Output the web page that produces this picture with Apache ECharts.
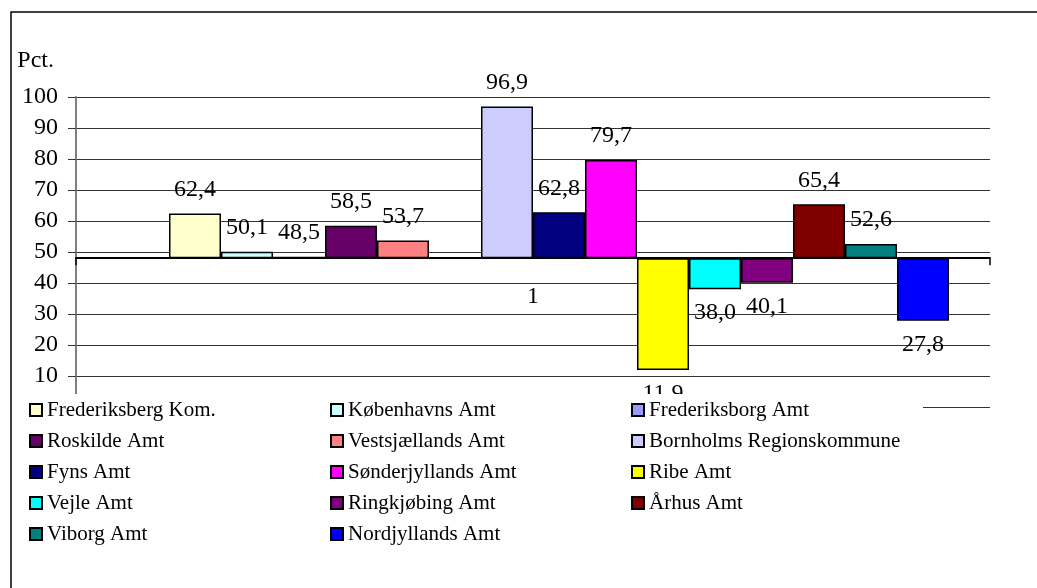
<!DOCTYPE html>
<html>
<head>
<meta charset="utf-8">
<script src="https://cdn.jsdelivr.net/npm/echarts@6/dist/echarts.min.js"></script>
<style>
html,body{margin:0;padding:0;background:#fff;}
#chart{width:1037px;height:588px;}
</style>
</head>
<body>
<div id="chart"></div>
<script>
// ---- data ----
const categories = ['1'];
const seriesNames = ['Københavns Kommune', 'Frederiksberg Kom.', 'Københavns Amt', 'Frederiksborg Amt', 'Roskilde Amt', 'Vestsjællands Amt', 'Storstrøms Amt', 'Bornholms Regionskommune', 'Fyns Amt', 'Sønderjyllands Amt', 'Ribe Amt', 'Vejle Amt', 'Ringkjøbing Amt', 'Århus Amt', 'Viborg Amt', 'Nordjyllands Amt'];
const seriesValues = [null, 62.4, 50.1, 48.5, 58.5, 53.7, null, 96.9, 62.8, 79.7, 11.9, 38.0, 40.1, 65.4, 52.6, 27.8];
const seriesColors = ['#FFFFFF', '#FFFFCC', '#CCFFFF', '#9999FF', '#660066', '#FF8080', '#FFFFFF', '#CCCCFF', '#000080', '#FF00FF', '#FFFF00', '#00FFFF', '#800080', '#800000', '#008080', '#0000FF'];
const legendNames = ['Frederiksberg Kom.', 'Københavns Amt', 'Frederiksborg Amt', 'Roskilde Amt', 'Vestsjællands Amt', 'Bornholms Regionskommune', 'Fyns Amt', 'Sønderjyllands Amt', 'Ribe Amt', 'Vejle Amt', 'Ringkjøbing Amt', 'Århus Amt', 'Viborg Amt', 'Nordjyllands Amt'];
const baseline = 48;
const yMin = 0, yMax = 100, yInterval = 10;
const yAxisName = 'Pct.';

const FONT = "'Liberation Serif', 'Times New Roman', serif";

const fmt = v => v.toFixed(1).replace('.', ',');

const series = seriesNames.map((name, i) => {
  const v = seriesValues[i];
  return {
    name: name,
    type: 'bar',
    yAxisIndex: 1,
    barWidth: 52,
    barGap: '0%',
    itemStyle: { color: seriesColors[i], borderColor: '#000', borderWidth: 1.5 },
    label: {
      show: v !== null,
      fontFamily: FONT,
      fontSize: 24,
      color: '#000',
      distance: 12,
      formatter: p => (p.data && p.data.realValue != null) ? fmt(p.data.realValue) : ''
    },
    data: [v === null ? null : {
      value: v - baseline,
      realValue: v,
      label: { position: v >= baseline ? 'top' : 'bottom' }
    }]
  };
});

const chart = echarts.init(document.getElementById('chart'), null, { renderer: 'canvas' });
chart.setOption({
  animation: false,
  backgroundColor: '#fff',
  grid: { left: 76, right: 47, top: 97, bottom: 181, containLabel: false },
  xAxis: {
    type: 'category',
    data: categories,
    axisLine: { onZero: true, onZeroAxisIndex: 1, lineStyle: { color: '#000', width: 2 } },
    axisTick: { show: true, length: 7, lineStyle: { color: '#000', width: 1.5 } },
    axisLabel: { show: false },
    splitLine: { show: false }
  },
  yAxis: [
    {
      type: 'value',
      min: yMin, max: yMax, interval: yInterval,
      name: yAxisName,
      nameLocation: 'end',
      nameGap: 24,
      nameTextStyle: { fontFamily: FONT, fontSize: 24, color: '#000', align: 'right', padding: [0, 22, 0, 0] },
      axisLine: { show: true, lineStyle: { color: '#808080', width: 2 } },
      axisTick: { show: true, length: 8, lineStyle: { color: '#333', width: 1 } },
      axisLabel: { fontFamily: FONT, fontSize: 24, color: '#000', margin: 18 },
      splitLine: { show: true, lineStyle: { color: '#333', width: 1 } }
    },
    {
      type: 'value',
      min: yMin - baseline, max: yMax - baseline,
      show: false,
      splitLine: { show: false }
    }
  ],
  legend: {
    data: legendNames,
    left: 24,
    top: 394,
    width: 900,
    orient: 'horizontal',
    itemWidth: 12,
    itemHeight: 12,
    itemGap: 9,
    icon: 'rect',
    padding: [5, 0, 5, 5],
    backgroundColor: '#fff',
    textStyle: { fontFamily: FONT, fontSize: 21, color: '#000', width: 274, lineHeight: 22 },
    selectedMode: false
  },
  graphic: [{
    id: 'frame',
    type: 'rect',
    silent: true,
    z: 100,
    shape: { x: 11, y: 12, width: 1100, height: 700 },
    style: { fill: 'none', stroke: '#000', lineWidth: 1.5 }
  }],
  series: series
});

// category label placed through the axes' own scales
const catPt = chart.convertToPixel({ xAxisIndex: 0, yAxisIndex: 0 }, [categories[0], baseline]);
chart.setOption({
  graphic: [{
    id: 'catLabel',
    type: 'text',
    silent: true,
    z: 3,
    x: catPt[0],
    y: catPt[1] + 39,
    style: { text: categories[0], fontFamily: FONT, fontSize: 24, fill: '#000', align: 'center', verticalAlign: 'middle' }
  }]
});
</script>
</body>
</html>
